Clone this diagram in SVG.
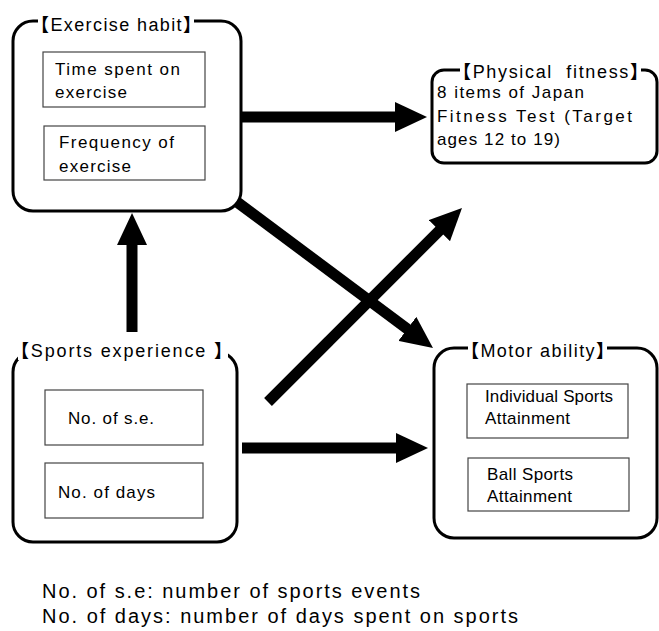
<svg xmlns="http://www.w3.org/2000/svg" width="659" height="631" viewBox="0 0 659 631">
<style>
.box{fill:#fff;stroke:#000;stroke-width:3}
.inner{fill:#fff;stroke:#444;stroke-width:1.2}
.mask{fill:#fff;stroke:none}
text{font-family:"Liberation Sans","Noto Sans CJK JP",sans-serif;fill:#000}
.t{font-size:18px;white-space:pre}
.br{font-family:"Noto Sans CJK JP",sans-serif;font-weight:700}
.b{font-size:17px}
.n{font-size:20px}
.arr{stroke:#000;stroke-width:11;fill:none;marker-end:url(#ah)}
</style>
<defs>
<marker id="ah" markerUnits="userSpaceOnUse" markerWidth="32" markerHeight="30" viewBox="0 0 32 30" refX="12" refY="15" orient="auto">
<path d="M0,0 L32,15 L0,30 z" fill="#000"/>
</marker>
</defs>
<rect width="659" height="631" fill="#fff"/>
<g id="connectors">
<line class="arr" x1="242" y1="117" x2="407" y2="117"/>
<line class="arr" x1="237" y1="202" x2="416.96" y2="336.05"/>
<line class="arr" x1="132" y1="332" x2="132" y2="233"/>
<line class="arr" x1="268" y1="402" x2="447.86" y2="222.14"/>
<line class="arr" x1="242" y1="448" x2="408" y2="448"/>
</g>
<g id="exercise-habit">
<rect class="box" x="13" y="21" width="228" height="190" rx="20"/>
<rect class="mask" x="38" y="12" width="156" height="18"/>
<text class="t" x="31" y="31" textLength="170" lengthAdjust="spacing"><tspan class="br">【</tspan>Exercise habit<tspan class="br">】</tspan></text>
<rect class="inner" x="43" y="52" width="162" height="55"/>
<text class="b" x="55" y="75" textLength="125" lengthAdjust="spacing">Time spent on</text>
<text class="b" x="55" y="98" textLength="72" lengthAdjust="spacing">exercise</text>
<rect class="inner" x="44" y="126" width="161" height="54"/>
<text class="b" x="59" y="148" textLength="115" lengthAdjust="spacing">Frequency of</text>
<text class="b" x="59" y="172" textLength="72" lengthAdjust="spacing">exercise</text>
</g>
<g id="physical-fitness">
<rect class="box" x="432" y="70" width="225" height="93" rx="12"/>
<rect class="mask" x="460" y="61" width="181" height="18"/>
<text class="t" x="453" y="78" textLength="195" lengthAdjust="spacing"><tspan class="br">【</tspan>Physical  fitness<tspan class="br">】</tspan></text>
<text class="b" x="437" y="98" textLength="147" lengthAdjust="spacing">8 items of Japan</text>
<text class="b" x="437" y="122" textLength="195" lengthAdjust="spacing">Fitness Test (Target</text>
<text class="b" x="437" y="145" textLength="123" lengthAdjust="spacing">ages 12 to 19)</text>
</g>
<g id="sports-experience">
<rect class="box" x="13" y="352" width="224" height="190" rx="20"/>
<rect class="mask" x="18" y="342" width="210" height="18"/>
<text class="t" x="11" y="357" textLength="221" lengthAdjust="spacing"><tspan class="br">【</tspan>Sports experience <tspan class="br">】</tspan></text>
<rect class="inner" x="45" y="390" width="158" height="55"/>
<text class="b" x="68" y="424" textLength="86" lengthAdjust="spacing">No. of s.e.</text>
<rect class="inner" x="45" y="463" width="158" height="55"/>
<text class="b" x="58" y="498" textLength="97" lengthAdjust="spacing">No. of days</text>
</g>
<g id="motor-ability">
<rect class="box" x="434" y="348" width="223" height="190" rx="20"/>
<rect class="mask" x="468" y="339" width="139" height="18"/>
<text class="t" x="461" y="357" textLength="153" lengthAdjust="spacing"><tspan class="br">【</tspan>Motor ability<tspan class="br">】</tspan></text>
<rect class="inner" x="467" y="384" width="161" height="54"/>
<text class="b" x="485" y="402" textLength="128" lengthAdjust="spacing">Individual Sports</text>
<text class="b" x="485" y="424" textLength="85" lengthAdjust="spacing">Attainment</text>
<rect class="inner" x="468" y="458" width="161" height="53"/>
<text class="b" x="487" y="480" textLength="86" lengthAdjust="spacing">Ball Sports</text>
<text class="b" x="487" y="502" textLength="85" lengthAdjust="spacing">Attainment</text>
</g>
<g id="notes">
<text class="n" x="42" y="598" textLength="378" lengthAdjust="spacing">No. of s.e: number of sports events</text>
<text class="n" x="42" y="623" textLength="476" lengthAdjust="spacing">No. of days: number of days spent on sports</text>
</g>
</svg>
